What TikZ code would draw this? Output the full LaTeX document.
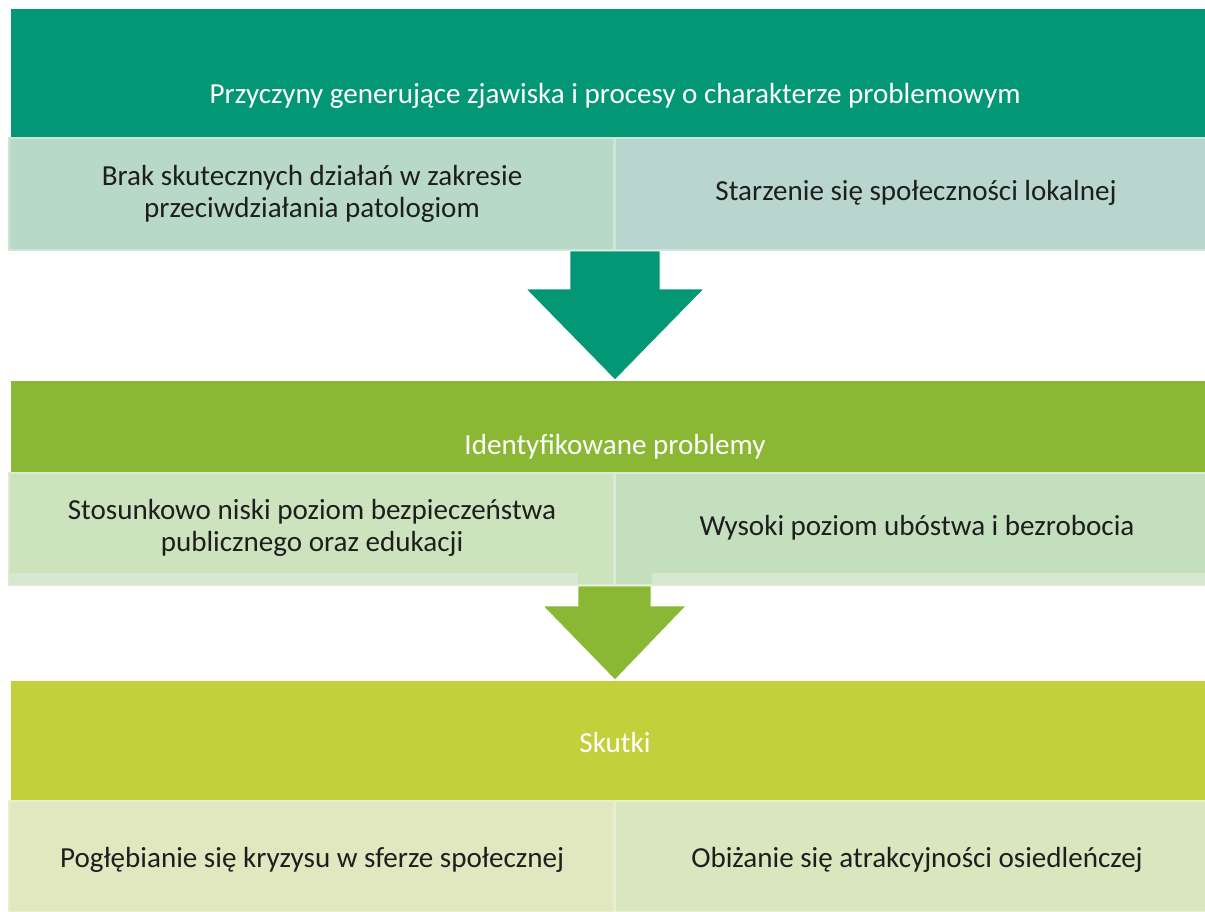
\documentclass[tikz,border=0pt]{standalone}
\usepackage{fontspec}
\setmainfont{Carlito}
\definecolor{bandA}{HTML}{039776}
\definecolor{boxAl}{HTML}{B8D9C8}
\definecolor{boxAr}{HTML}{B8D6CE}
\definecolor{bandB}{HTML}{8BB834}
\definecolor{boxBl}{HTML}{CDE3BD}
\definecolor{boxBr}{HTML}{C4DFBE}
\definecolor{stripB}{HTML}{D6E8D0}
\definecolor{bandC}{HTML}{C3D03B}
\definecolor{boxCl}{HTML}{E1E8BF}
\definecolor{boxCr}{HTML}{D9E6BE}
\definecolor{txt}{HTML}{1E1E1E}
\definecolor{edgeA}{HTML}{CFE4D9}
\definecolor{edgeB}{HTML}{DCEBD3}
\definecolor{edgeC}{HTML}{E9EED2}
\tikzset{
  bandtext/.style={text=white, font=\fontsize{21.8}{25}\selectfont, inner sep=0pt},
  boxtext/.style={text=txt, font=\fontsize{21.8}{24.5}\selectfont, align=center, inner sep=0pt},
}
\begin{document}
\begin{tikzpicture}[x=0.75pt,y=-0.75pt]
\useasboundingbox (0,0) rectangle (1205,911);
\fill[white] (0,0) rectangle (1205,911);
% band 1
\fill[bandA] (11,9) rectangle (1205,137);
\fill[boxAl,draw=edgeA,line width=1.2pt] (9,138) rectangle (614,250);
\fill[boxAr,draw=edgeA,line width=1.2pt] (615,138) rectangle (1206,250);
\node[bandtext] (t1) at (615,96) {Przyczyny generujące zjawiska i procesy o charakterze problemowym};
\node[boxtext] (a1) at (312,194) {Brak skutecznych działań w zakresie\\przeciwdziałania patologiom};
\node[boxtext] (a2) at (916,193) {Starzenie się społeczności lokalnej};
% arrow 1
\fill[bandA,draw=white,line width=0.6pt] (570,251) -- (660,251) -- (660,289) -- (704,289) -- (615,380) -- (526,289) -- (570,289) -- cycle;
% band 2
\fill[bandB] (11,381) rectangle (1205,472);
\fill[boxBl,draw=edgeB,line width=1.2pt] (9,473) rectangle (614,585);
\fill[boxBr,draw=edgeB,line width=1.2pt] (615,473) rectangle (1206,585);
\fill[stripB] (9,573) rectangle (578,585);
\fill[stripB] (652,573) rectangle (1206,585);
\node[bandtext] (t2) at (615,447) {Identyfikowane problemy};
\node[boxtext] (b1) at (312,528) {Stosunkowo niski poziom bezpieczeństwa\\publicznego oraz edukacji};
\node[boxtext] (b2) at (917,528) {Wysoki poziom ubóstwa i bezrobocia};
% arrow 2
\fill[bandB,draw=white,line width=0.6pt] (578,586) -- (651,586) -- (651,606) -- (686,606) -- (615,680) -- (543,606) -- (578,606) -- cycle;
% band 3
\fill[bandC] (11,681) rectangle (1205,800);
\fill[boxCl,draw=edgeC,line width=1.2pt] (9,801) rectangle (614,912);
\fill[boxCr,draw=edgeC,line width=1.2pt] (615,801) rectangle (1206,912);
\node[bandtext] (t3) at (615,742) {Skutki};
\node[boxtext] (c1) at (312,860) {Pogłębianie się kryzysu w sferze społecznej};
\node[boxtext] (c2) at (917,860) {Obiżanie się atrakcyjności osiedleńczej};
\end{tikzpicture}
\end{document}
